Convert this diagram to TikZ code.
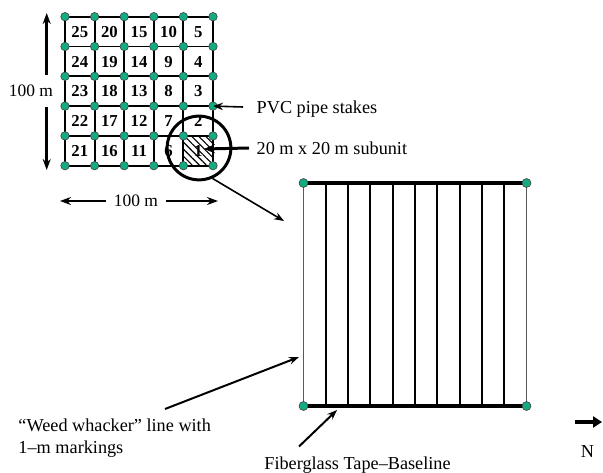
\documentclass[tikz,border=0pt]{standalone}
\usepackage{fontspec}
\setmainfont{Liberation Serif}
\usetikzlibrary{arrows.meta,patterns.meta}
\definecolor{stake}{RGB}{20,170,130}
\begin{document}
\begin{tikzpicture}[x=1bp,y=-1bp,
  stakedot/.style={circle,fill=stake,draw=black!75,line width=0.6,inner sep=0,minimum size=8.5},
  cellnum/.style={font=\fontsize{16.8}{18}\selectfont\bfseries,inner sep=0},
  lbl/.style={font=\fontsize{18.3}{21.7}\selectfont,inner sep=0},
  dimlbl/.style={font=\fontsize{17.5}{20}\selectfont,fill=white,inner xsep=8,inner ysep=10},
  gridline/.style={line width=1.9},
  arr/.style={-{Stealth[length=10,width=7.5]},line width=1.6},
  thickarr/.style={-{Stealth[length=11,width=9]},line width=3},
  dimarr/.style={{Stealth[length=11,width=8]}-{Stealth[length=11,width=8]},line width=2.6},
  transect/.style={line width=1.9},
  sideline/.style={line width=1.1,draw=black!65},
  tape/.style={line width=3.8},
  zoomring/.style={circle,draw,line width=3,minimum size=64,inner sep=0}
]
\useasboundingbox (0,0) rectangle (603,473);

% ---------- small grid ----------
\foreach \i in {0,...,5}
  \foreach \j in {0,...,5}
    \coordinate (p-\i-\j) at ({65+29.6*\i},{16.7+29.8*\j});
\fill[pattern={Lines[angle=-45,distance=5pt,line width=1.1pt]}] (p-4-4) rectangle (p-5-5);
\foreach \k in {0,...,5} {
  \draw[gridline] (p-0-\k) -- (p-5-\k);
  \draw[gridline] (p-\k-0) -- (p-\k-5);
}
\foreach \c in {0,...,4}
  \foreach \r in {0,...,4} {
    \pgfmathtruncatemacro{\num}{(4-\c)*5+(5-\r)}
    \node[cellnum] (n\num) at ({65+29.6*\c+14.8},{16.7+29.8*\r+15.2}) {\num};
  }
\foreach \i in {0,...,5}
  \foreach \j in {0,...,5}
    \node[stakedot] (g-\i-\j) at (p-\i-\j) {};

\node[zoomring] (ring) at (199,148) {};

% ---------- dimension arrows ----------
\coordinate (va) at (46.7,13);
\coordinate (vb) at (46.7,170);
\draw[dimarr] (va) -- (vb);
\node[dimlbl,inner xsep=1] (vl) at (31,91) {100 m};
\coordinate (ha) at (60,201);
\coordinate (hb) at (218,201);
\draw[dimarr] (ha) -- (hb);
\node[dimlbl,inner ysep=2] (hl) at (136,201) {100 m};

% ---------- labels for grid ----------
\node[lbl,anchor=base west] (pvc) at (256.5,114) {PVC pipe stakes};
\node[lbl,anchor=base west] (sub) at (256.5,155) {20 m x 20 m subunit};
\coordinate (pvct) at (243,107);
\draw[arr] (pvct) -- (g-5-3.center);
\coordinate (subt) at (249,148);
\coordinate (subh) at (204,149);
\draw[thickarr] (subt) -- (subh);

% ---------- enlarged subunit ----------
\coordinate (s-tl) at (303.5,183);
\coordinate (s-tr) at (526.5,183);
\coordinate (s-bl) at (303.5,406);
\coordinate (s-br) at (526.5,406);
\foreach \k in {1,...,9}
  \draw[transect] ({303.5+22.3*\k},183) -- ({303.5+22.3*\k},406);
\draw[sideline] (s-tl) -- (s-bl);
\draw[sideline] (s-tr) -- (s-br);
\draw[tape] (s-tl) -- (s-tr);
\draw[tape] (s-bl) -- (s-br);
\node[stakedot,minimum size=9] (c-tl) at (s-tl) {};
\node[stakedot,minimum size=9] (c-tr) at (s-tr) {};
\node[stakedot,minimum size=9] (c-bl) at (s-bl) {};
\node[stakedot,minimum size=9] (c-br) at (s-br) {};

\coordinate (ringh) at (284,221);
\draw[arr] (ring.-66) -- (ringh);

% ---------- bottom labels ----------
\node[lbl,anchor=base west] (weed1) at (18.3,431.7) {“Weed whacker” line with};
\node[lbl,anchor=base west] (weed2) at (18.3,453.4) {1–m markings};
\coordinate (weedt) at (165,409);
\coordinate (weedh) at (299,357);
\draw[arr,line width=2] (weedt) -- (weedh);

\node[lbl,anchor=base] (fib) at (357.5,469) {Fiberglass Tape–Baseline};
\coordinate (fibt) at (299,446.5);
\coordinate (fibh) at (337,410);
\draw[arr,line width=2] (fibt) -- (fibh);

% ---------- north ----------
\coordinate (na) at (575,422);
\coordinate (nb) at (602,422);
\draw[line width=4,-{Triangle[length=9,width=11]}] (na) -- (nb);
\node[lbl,anchor=base] (north) at (587.5,457) {N};
\end{tikzpicture}
\end{document}
